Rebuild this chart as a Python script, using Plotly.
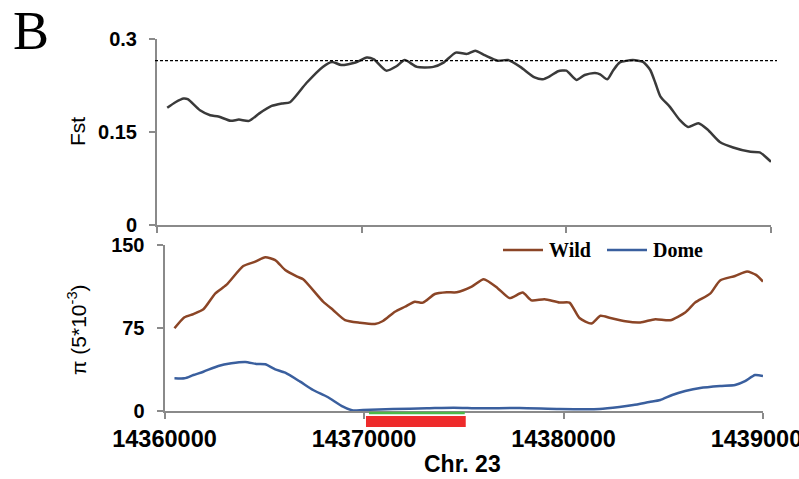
import plotly.graph_objects as go

W, H = 799, 479

# ---------------- data ----------------
fst_pos = [14360500, 14360900, 14361300, 14361500, 14362100, 14362600, 14363000, 14363600,
           14364000, 14364500, 14365000, 14365600, 14366100, 14366500, 14367300, 14368100,
           14368550, 14369000, 14369700, 14370250, 14370600, 14371200, 14371700, 14372100,
           14372700, 14373500, 14374000, 14374600, 14375150, 14375550, 14376000, 14376650,
           14377150, 14377750, 14378450, 14378850, 14379200, 14379600, 14380000, 14380500,
           14380900, 14381400, 14381650, 14382000, 14382300, 14382600, 14383250, 14383750,
           14384100, 14384350, 14384600, 14385050, 14385550, 14385950, 14386450, 14386900,
           14387500, 14388150, 14389000, 14389450, 14390000]
fst_val = [0.189, 0.198, 0.204, 0.203, 0.185, 0.177, 0.175, 0.168,
           0.170, 0.168, 0.180, 0.192, 0.196, 0.198, 0.229, 0.255,
           0.263, 0.258, 0.262, 0.270, 0.267, 0.249, 0.256, 0.266,
           0.255, 0.255, 0.262, 0.278, 0.276, 0.281, 0.274, 0.265,
           0.266, 0.255, 0.238, 0.235, 0.240, 0.248, 0.249, 0.234,
           0.242, 0.245, 0.243, 0.235, 0.250, 0.262, 0.266, 0.263,
           0.250, 0.229, 0.207, 0.191, 0.169, 0.158, 0.164, 0.154,
           0.134, 0.125, 0.118, 0.117, 0.102]
fst_threshold = 0.265

wild_pos = [14360500, 14361000, 14361450, 14361950, 14362550, 14363100, 14363950, 14364550,
            14365050, 14365550, 14366050, 14366650, 14366950, 14367950, 14368450, 14369050,
            14369800, 14370550, 14370950, 14371550, 14372050, 14372550, 14372950, 14373550,
            14374150, 14374650, 14375400, 14376000, 14376700, 14377300, 14377950, 14378400,
            14379050, 14379800, 14380300, 14380800, 14381400, 14381850, 14382350, 14383100,
            14383850, 14384600, 14385350, 14386100, 14386600, 14387350, 14387850, 14388600,
            14389200, 14389650, 14390000]
wild_val = [74.7, 84.7, 87.6, 91.9, 106.3, 113.9, 131.0, 134.9,
            138.9, 136.4, 127.4, 121.4, 119.0, 98.8, 91.3, 82.2,
            79.8, 78.6, 81.3, 89.7, 94.2, 98.8, 97.9, 105.7,
            107.3, 107.3, 112.3, 119.0, 111.0, 102.0, 107.0, 100.0,
            101.0, 98.0, 98.0, 84.0, 79.0, 86.0, 84.0, 81.0,
            80.0, 83.0, 82.0, 89.0, 98.0, 106.0, 118.0, 122.0,
            126.0, 123.0, 117.0]

dome_pos = [14360500, 14361000, 14361450, 14361950, 14362700, 14363350, 14364050, 14364600,
            14365050, 14365550, 14366050, 14366800, 14367450, 14368150, 14368950, 14369450,
            14369950, 14371450, 14373150, 14374500, 14375800, 14377800, 14379800, 14381800,
            14382800, 14383500, 14384300, 14384850, 14385450, 14386100, 14386850, 14387850,
            14388600, 14389100, 14389600, 14390000]
dome_val = [29.5, 29.5, 32.5, 35.5, 40.7, 43.1, 44.3, 42.5,
            42.2, 37.7, 34.6, 26.5, 19.0, 12.9, 3.9, 0.5,
            0.9, 1.8, 2.4, 3.0, 2.4, 2.7, 1.8, 1.8,
            3.6, 5.4, 8.1, 9.9, 14.5, 18.0, 20.8, 22.6,
            23.5, 27.0, 32.5, 31.6]

region_red = [14370100, 14375100]
region_green = [14370250, 14375050]

series_names = ["Wild", "Dome"]
series_colors = ["#8B4526", "#3A5F9E"]

x_ticks = [14360000, 14370000, 14380000, 14390000]
x_ticktext = ["14360000", "14370000", "14380000", "14390000"]
fst_ticks = [0, 0.15, 0.3]
fst_ticktext = ["0", "0.15", "0.3"]
pi_ticks = [0, 75, 150]
pi_ticktext = ["0", "75", "150"]

# ---------------- figure ----------------
AX = "#8a8a8a"
SANS = "Liberation Sans, Arial, sans-serif"
SERIF = "Liberation Serif, Times New Roman, serif"

def px_x(p):
    return p / W

def px_y(p):
    return 1 - p / H

fig = go.Figure()

fig.add_trace(go.Scatter(x=fst_pos, y=fst_val, mode="lines", xaxis="x", yaxis="y",
                         name="Fst",
                         line=dict(color="#3a3a3a", width=2.5, shape="spline", smoothing=0.6)))
fig.add_trace(go.Scatter(x=wild_pos, y=wild_val, mode="lines", xaxis="x2", yaxis="y2",
                         name=series_names[0],
                         line=dict(color=series_colors[0], width=2.5, shape="spline", smoothing=0.6)))
fig.add_trace(go.Scatter(x=dome_pos, y=dome_val, mode="lines", xaxis="x2", yaxis="y2",
                         name=series_names[1],
                         line=dict(color=series_colors[1], width=2.5, shape="spline", smoothing=0.6)))

common_x = dict(range=[x_ticks[0], x_ticks[-1]], tickmode="array", tickvals=x_ticks,
                showline=True, linecolor=AX, linewidth=2, ticks="outside", ticklen=6,
                tickwidth=1.5, tickcolor=AX, showgrid=False, zeroline=False, automargin=False)
common_y = dict(showline=True, linecolor=AX, linewidth=2, ticks="outside", ticklen=6,
                tickwidth=1.5, tickcolor=AX, showgrid=False, zeroline=False, automargin=False,
                tickfont=dict(family=SANS, size=20, color="black", weight="bold"),
                ticklabelstandoff=8)

fig.update_layout(
    width=W, height=H,
    margin=dict(l=0, r=0, t=0, b=0),
    paper_bgcolor="white", plot_bgcolor="white",
    xaxis=dict(domain=[px_x(157), px_x(771)], anchor="y", showticklabels=False, **common_x),
    yaxis=dict(domain=[px_y(225), px_y(39)], anchor="x", range=[0, 0.3],
               tickmode="array", tickvals=fst_ticks, ticktext=fst_ticktext, **common_y),
    xaxis2=dict(domain=[px_x(164.5), px_x(763)], anchor="y2", ticktext=x_ticktext,
                tickfont=dict(family=SANS, size=23.5, color="black", weight="bold"),
                ticklabelstandoff=0, ticklabeloverflow="allow", **common_x),
    yaxis2=dict(domain=[px_y(411), px_y(245)], anchor="x2", range=[0, 150],
                tickmode="array", tickvals=pi_ticks, ticktext=pi_ticktext, **common_y),
    showlegend=False,
)

# threshold line in the Fst panel
fig.add_shape(type="line", xref="paper", yref="y", x0=px_x(155), x1=px_x(777),
              y0=fst_threshold, y1=fst_threshold,
              line=dict(color="black", width=1.2, dash="3px,2px"))
# highlighted region below the lower panel
fig.add_shape(type="rect", xref="x2", yref="paper", x0=region_red[0], x1=region_red[1],
              y0=px_y(427), y1=px_y(416), fillcolor="#EE2B2B", line=dict(width=0))
fig.add_shape(type="line", xref="x2", yref="paper", x0=region_green[0], x1=region_green[1],
              y0=px_y(413), y1=px_y(413), line=dict(color="#4DB848", width=2.5))

# legend (drawn in paper space, Excel style: long line sample + bold serif label)
legend_items = [(503, 543, 547), (607, 647, 651)]
for (lx0, lx1, tx), name, col in zip(legend_items, series_names, series_colors):
    fig.add_shape(type="line", xref="paper", yref="paper", x0=px_x(lx0), x1=px_x(lx1),
                  y0=px_y(250), y1=px_y(250), line=dict(color=col, width=2.5))
    fig.add_annotation(xref="paper", yref="paper", showarrow=False, text=name,
                       x=px_x(tx), y=px_y(250), xanchor="left", yanchor="middle",
                       font=dict(family=SERIF, size=20, color="black", weight="bold"))

ann = [
    dict(text="B", x=px_x(30.5), y=px_y(30.5), font=dict(family=SERIF, size=54, color="black")),
    dict(text="Fst", x=px_x(77), y=px_y(132), textangle=-90,
         font=dict(family=SANS, size=21, color="black")),
    dict(text="π (5*10<sup>-3</sup>)", x=px_x(77), y=px_y(330), textangle=-90,
         font=dict(family=SANS, size=21, color="black")),
    dict(text="Chr. 23", x=px_x(462), y=px_y(463.5),
         font=dict(family=SANS, size=23, color="black", weight="bold")),
]
for a in ann:
    fig.add_annotation(xref="paper", yref="paper", showarrow=False,
                       xanchor="center", yanchor="middle", **a)

fig.write_html("out.html", config={"displayModeBar": False},
               post_script="document.body.style.margin='0';document.body.style.overflow='hidden';")
